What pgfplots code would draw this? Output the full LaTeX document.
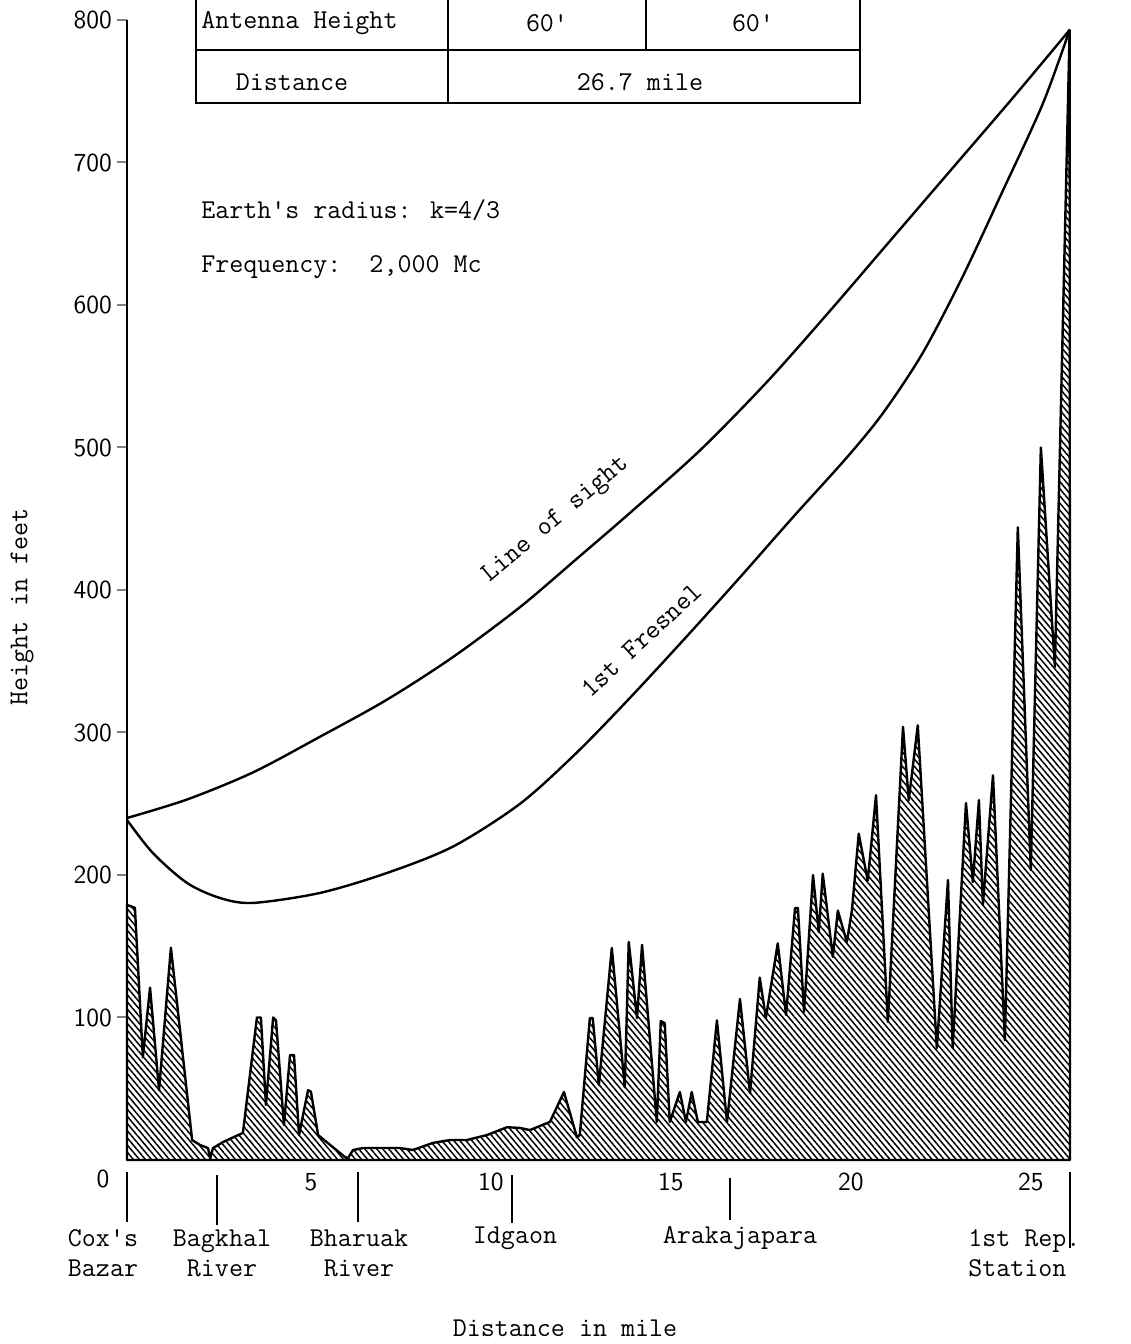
\documentclass[border=0pt]{standalone}
\usepackage{fontspec}
\usepackage{pgfplots}
\pgfplotsset{compat=1.18}
\usetikzlibrary{patterns.meta}
\newcommand\tw{\ttfamily\fontsize{13.6}{15}\selectfont}
\newcommand\tk{\sffamily\fontsize{13}{15}\selectfont}
\begin{document}
\begin{tikzpicture}
\begin{axis}[
  at={(63.5pt,92pt)}, anchor=south west,
  scale only axis, width=471.5pt, height=570pt,
  xmin=0, xmax=26.2, ymin=0, ymax=800,
  axis lines=left, axis line style={-, line width=1pt},
  clip=false,
  xtick={5,10,15,20,25}, ytick={100,200,...,800},
  major tick length=5pt,
  xtick style={draw=none},
  ytick style={line width=1pt},
  tick align=outside,
  ticklabel style={font=\tk},
  xticklabel style={yshift=2pt, xshift=2pt},
  yticklabel style={xshift=1pt},
  /pgf/number format/assume math mode=true,
]
% terrain profile
\addplot[draw=black, line width=1.2pt, line join=round,
  pattern={Lines[angle=-50,distance=2.3pt,line width=0.75pt]}] coordinates {
(0.00,179) (0.22,177) (0.44,72) (0.64,121) (0.89,49) (1.22,149)
(1.81,14) (2.03,10.5) (2.25,8.4) (2.31,1.4) (2.39,8.4) (2.67,12.6)
(3.22,19) (3.61,100) (3.72,100) (3.86,38.6) (4.06,100) (4.14,98)
(4.36,24.6) (4.53,73.7) (4.64,73.7) (4.78,17.5) (5.03,49) (5.11,48)
(5.31,17.5) (5.72,9) (6.06,2) (6.14,1.4) (6.28,7) (6.56,8.4)
(7.58,8.4) (7.94,7) (8.50,12) (8.97,14) (9.44,14) (10.0,17.5)
(10.56,23) (10.92,22.5) (11.19,21) (11.75,26.7) (12.14,47.7) (12.5,16)
(12.58,17.5) (12.86,99.6) (12.94,99.6) (13.11,52.6) (13.47,148.8) (13.83,51)
(13.94,153) (14.17,99.6) (14.31,151) (14.72,26.7) (14.83,97.5) (14.94,96)
(15.08,26.7) (15.36,47.7) (15.53,26.7) (15.69,47.7) (15.86,26.7) (16.11,26.7)
(16.39,98) (16.67,26.7) (17.03,113) (17.31,47) (17.58,128) (17.75,99.6)
(18.08,152) (18.31,101.8) (18.56,176.8) (18.64,176.8) (18.81,104) (19.06,200)
(19.22,160) (19.33,201) (19.61,142.5) (19.75,175) (20.0,153) (20.14,175)
(20.33,229) (20.58,196) (20.81,256) (21.14,97) (21.56,304) (21.72,252.6)
(21.97,305) (22.5,78.6) (22.81,196.5) (22.94,78.6) (23.31,250.5) (23.5,195)
(23.67,252.6) (23.78,179) (24.06,270) (24.39,84) (24.75,444) (25.11,203.5)
(25.39,500) (25.78,346) (26.19,793) (26.2,0)
} \closedcycle;
% line of sight
\addplot[line width=1.2pt, smooth, tension=0.5] coordinates {
(0,240) (1.67,253) (3.5,272) (5.36,297) (7.22,323) (9.06,353)
(10.92,388) (12.5,422) (14.06,456) (15.92,498) (17.78,546) (19.5,595)
(21.2,645) (22.9,695) (24.6,745) (26.19,793)
};
% 1st Fresnel
\addplot[line width=1.2pt, smooth, tension=0.5] coordinates {
(0,238.6) (0.72,215.4) (1.67,194.4) (2.58,183.9) (3.5,180.4) (5.36,187.4)
(7.22,201.4) (9.06,220) (10.92,250) (12.5,286) (14.0,325) (15.5,366)
(17.0,408) (18.5,451) (20.0,493) (21.0,524) (22.1,566) (23.2,619)
(24.33,680) (25.44,741) (26.19,793)
};
\end{axis}
\begin{scope}[x=0.5pt, y=-0.5pt, shift={(0pt,672pt)}, every node/.style={font=\tw, inner sep=0pt}]
% table
\draw[line width=1pt] (196,-5) -- (196,103) -- (860,103) -- (860,-5);
\draw[line width=1pt] (196,50) -- (860,50);
\draw[line width=1pt] (448,-5) -- (448,103);
\draw[line width=1pt] (646,-5) -- (646,50);
\node[anchor=west] at (201,23) {Antenna Height};
\node at (547,23) {60'};
\node at (753,23) {60'};
\node at (292,82) {Distance};
\node at (640,82) {26.7 mile};
% annotations
\node[anchor=west] at (201,210) {Earth's radius: k=4/3};
\node[anchor=west] at (201,267) {Frequency:\ \ 2,000 Mc};
\node[rotate=40] at (556,520) {Line of sight};
\node[rotate=43] at (641,640) {1st Fresnel};
\node[rotate=90] at (22,607) {Height in feet};
\node at (565,1328) {Distance in mile};
% zero label
\node[font=\tk] at (103,1179) {0};
% location ticks
\draw[line width=1pt] (127,1172) -- (127,1222);
\draw[line width=1pt] (217,1175) -- (217,1225);
\draw[line width=1pt] (358,1172) -- (358,1222);
\draw[line width=1pt] (512,1175) -- (512,1223);
\draw[line width=1pt] (730,1178) -- (730,1220);
\draw[line width=1pt] (1070,1172) -- (1070,1248);
% location labels
\node[align=center] at (103,1253) {Cox's\\Bazar};
\node[align=center] at (222,1253) {Bagkhal\\River};
\node[align=center] at (359,1253) {Bharuak\\River};
\node at (515,1238) {Idgaon};
\node at (740,1238) {Arakajapara};
\node[align=left, anchor=west] at (968,1253) {1st Rep.\\Station};
\pgfresetboundingbox
\path (0,0) rectangle (1130,1344);
\end{scope}
\end{tikzpicture}
\end{document}
